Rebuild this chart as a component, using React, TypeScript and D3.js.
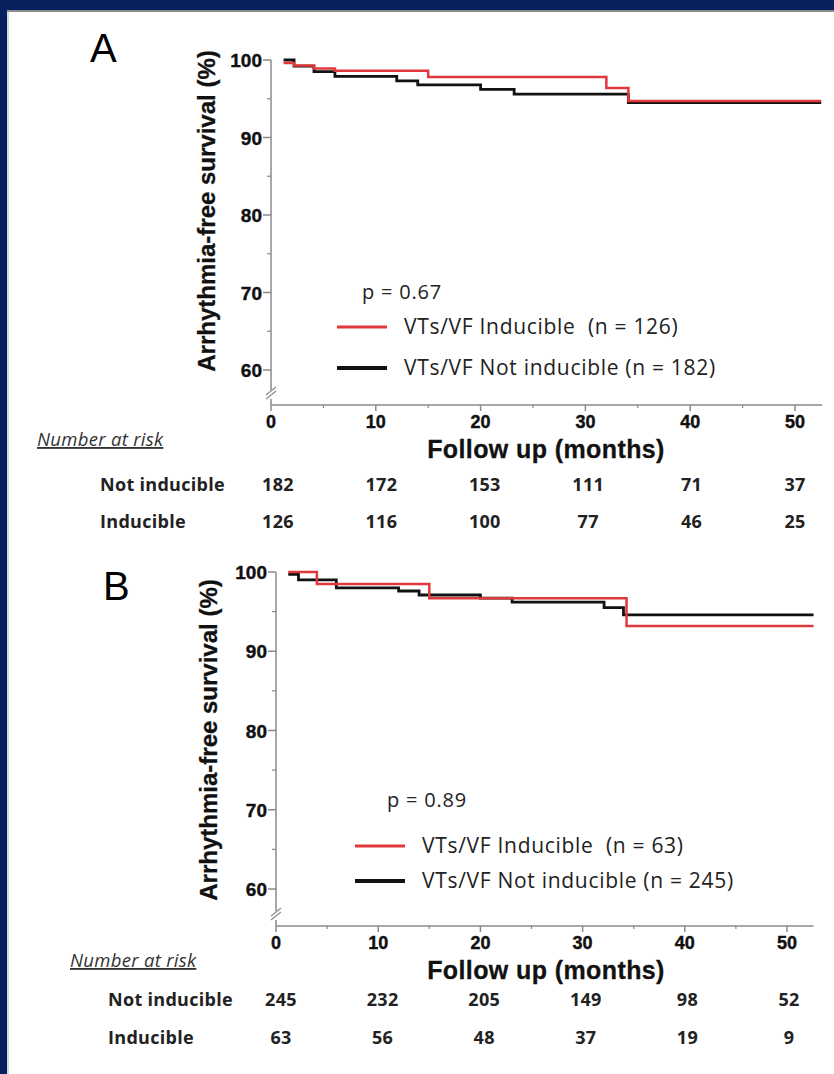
import React from 'react';
import * as d3 from 'd3';

// x ticks (months) and y ticks (%)
const xTicks = [0, 10, 20, 30, 40, 50];
const xMinor = [5, 15, 25, 35, 45];
const yTicks = [60, 70, 80, 90, 100];
const yMinor = [65, 75, 85, 95];

// Panel A: step points [month, survival %]
const inducibleA: [number, number][] = [
  [1.2, 99.6], [2.2, 99.3], [4.1, 98.9], [6.1, 98.6], [15.0, 97.8],
  [32.0, 96.4], [34.1, 94.7], [52.5, 94.7],
];
const notInducibleA: [number, number][] = [
  [1.2, 100], [2.2, 99.2], [4.1, 98.5], [6.1, 97.9], [12.0, 97.3],
  [14.0, 96.8], [20.0, 96.2], [23.2, 95.6], [34.1, 94.5], [52.5, 94.5],
];
const riskNotA = [182, 172, 153, 111, 71, 37];
const riskIndA = [126, 116, 100, 77, 46, 25];

// Panel B
const inducibleB: [number, number][] = [
  [1.2, 100], [4.0, 98.5], [15.0, 96.7], [34.3, 93.2], [52.6, 93.2],
];
const notInducibleB: [number, number][] = [
  [1.2, 99.7], [2.2, 99.0], [5.9, 98.0], [12.0, 97.6], [14.0, 97.1],
  [20.0, 96.7], [23.1, 96.2], [32.1, 95.5], [34.0, 94.6], [52.6, 94.6],
];
const riskNotB = [245, 232, 205, 149, 98, 52];
const riskIndB = [63, 56, 48, 37, 19, 9];

const RED = '#e0383d';
const BLACK = '#111';
const AXIS = '#8a8a8a';
const SANS = '"Liberation Sans", Arial, sans-serif';
const SOFT = '"Open Sans", sans-serif';

interface Geo {
  x0: number; x50: number; y60: number; y100: number;
  xAxisY: number; yAxisBottom: number; xEnd: number;
  labelX: number; labelY: number;
  titleX: number; titleY: number;
  riskLabelX: number; riskX0: number; riskX50: number;
  numberAtRisk: [number, number];
  row1Y: number; row2Y: number;
  pX: number; pY: number; legX: number; legY1: number; legY2: number;
}

interface PanelProps {
  geo: Geo; letter: string; red: [number, number][]; black: [number, number][];
  p: string; nInd: number; nNot: number; riskNot: number[]; riskInd: number[];
}

const heavy = { fontFamily: SANS, fontWeight: 'bold' as const, fill: '#111', stroke: '#111', strokeWidth: 0.4 };
const table = { fontFamily: SOFT, fontWeight: 'bold' as const, fontSize: 18, fill: '#222', letterSpacing: 0.3 };

function Panel({ geo, letter, red, black, p, nInd, nNot, riskNot, riskInd }: PanelProps) {
  const x = d3.scaleLinear().domain([0, 50]).range([geo.x0, geo.x50]);
  const y = d3.scaleLinear().domain([60, 100]).range([geo.y60, geo.y100]);
  const col = d3.scaleLinear().domain([0, 50]).range([geo.riskX0, geo.riskX50]);
  const line = d3.line<[number, number]>()
    .x(d => x(d[0]))
    .y(d => y(d[1]))
    .curve(d3.curveStepAfter);

  return (
    <g>
      <text x={geo.labelX} y={geo.labelY} fontFamily={SANS} fontSize={40}>{letter}</text>

      {/* y axis */}
      <line x1={geo.x0} x2={geo.x0} y1={geo.y100} y2={geo.yAxisBottom} stroke={AXIS} strokeWidth={1.5} />
      {yTicks.map(t => (
        <g key={t}>
          <line x1={geo.x0 - 8} x2={geo.x0} y1={y(t)} y2={y(t)} stroke={AXIS} strokeWidth={1.5} />
          <text x={geo.x0 - 9} y={y(t) + 7} textAnchor="end" fontSize={19} {...heavy}>{t}</text>
        </g>
      ))}
      {yMinor.map(t => (
        <line key={t} x1={geo.x0 - 4} x2={geo.x0} y1={y(t)} y2={y(t)} stroke={AXIS} strokeWidth={1.2} />
      ))}
      {/* axis break */}
      <line x1={geo.x0 - 5} y1={geo.yAxisBottom + 5} x2={geo.x0 + 5} y2={geo.yAxisBottom - 3} stroke={AXIS} strokeWidth={1.2} />
      <line x1={geo.x0 - 5} y1={geo.yAxisBottom + 9} x2={geo.x0 + 5} y2={geo.yAxisBottom + 1} stroke={AXIS} strokeWidth={1.2} />
      <text transform={`translate(${geo.titleX},${geo.titleY}) rotate(-90)`} textAnchor="middle"
        fontSize={24} {...heavy} strokeWidth={0.3}>Arrhythmia-free survival (%)</text>

      {/* x axis */}
      <line x1={geo.x0} x2={x(geo.xEnd)} y1={geo.xAxisY} y2={geo.xAxisY} stroke={AXIS} strokeWidth={1.5} />
      <line x1={geo.x0} x2={geo.x0} y1={geo.xAxisY - 6} y2={geo.xAxisY} stroke={AXIS} strokeWidth={1.5} />
      {xTicks.map(t => (
        <g key={t}>
          <line x1={x(t)} x2={x(t)} y1={geo.xAxisY} y2={geo.xAxisY + 6} stroke={AXIS} strokeWidth={1.5} />
          <text x={x(t)} y={geo.xAxisY + 23} textAnchor="middle" fontSize={18} {...heavy}>{t}</text>
        </g>
      ))}
      {xMinor.map(t => (
        <line key={t} x1={x(t)} x2={x(t)} y1={geo.xAxisY} y2={geo.xAxisY + 3} stroke={AXIS} strokeWidth={1.2} />
      ))}
      <text x={546} y={geo.xAxisY + 53} textAnchor="middle" fontSize={25} letterSpacing={0.4} {...heavy}
        strokeWidth={0.3}>Follow up (months)</text>

      {/* curves */}
      <path d={line(black) ?? ''} fill="none" stroke={BLACK} strokeWidth={2.8} />
      <path d={line(red) ?? ''} fill="none" stroke={RED} strokeWidth={2.5} />

      {/* p value and legend */}
      <text x={geo.pX} y={geo.pY + 1} fontFamily={SOFT} fontSize={20} letterSpacing={0.8} fill="#222">{p}</text>
      <line x1={geo.legX} x2={geo.legX + 50} y1={geo.legY1} y2={geo.legY1} stroke={RED} strokeWidth={3} />
      <text x={geo.legX + 67} y={geo.legY1 + 7} fontFamily={SOFT} fontSize={21} letterSpacing={0.7} fill="#222"
        xmlSpace="preserve">{`VTs/VF Inducible  (n = ${nInd})`}</text>
      <line x1={geo.legX} x2={geo.legX + 50} y1={geo.legY2} y2={geo.legY2} stroke={BLACK} strokeWidth={4} />
      <text x={geo.legX + 67} y={geo.legY2 + 7} fontFamily={SOFT} fontSize={21} letterSpacing={0.7} fill="#222">
        {`VTs/VF Not inducible (n = ${nNot})`}</text>

      {/* number at risk */}
      <text x={geo.numberAtRisk[0]} y={geo.numberAtRisk[1]} fontFamily={SOFT} fontStyle="italic"
        fontSize={18.5} letterSpacing={0.3} fill="#333" textDecoration="underline">Number at risk</text>
      <text x={geo.riskLabelX} y={geo.row1Y} {...table}>Not inducible</text>
      <text x={geo.riskLabelX} y={geo.row2Y} {...table}>Inducible</text>
      {xTicks.map((t, i) => (
        <g key={t}>
          <text x={col(t)} y={geo.row1Y} textAnchor="middle" {...table}>{riskNot[i]}</text>
          <text x={col(t)} y={geo.row2Y} textAnchor="middle" {...table}>{riskInd[i]}</text>
        </g>
      ))}
    </g>
  );
}

const geoA: Geo = {
  x0: 271, x50: 795, y60: 370, y100: 60, xAxisY: 405, yAxisBottom: 390, xEnd: 52.6,
  labelX: 90, labelY: 62, titleX: 215, titleY: 211,
  riskLabelX: 100, riskX0: 278, riskX50: 795, numberAtRisk: [37, 446],
  row1Y: 491, row2Y: 528,
  pX: 362, pY: 298, legX: 337, legY1: 327, legY2: 368,
};

const geoB: Geo = {
  x0: 276, x50: 787, y60: 889, y100: 572, xAxisY: 926, yAxisBottom: 911, xEnd: 52.6,
  labelX: 103, labelY: 600, titleX: 217, titleY: 740,
  riskLabelX: 108, riskX0: 281, riskX50: 789, numberAtRisk: [70, 967],
  row1Y: 1006, row2Y: 1044,
  pX: 387, pY: 806, legX: 355, legY1: 846, legY2: 881,
};

export default function App() {
  const W = 834;
  const H = 1074;
  return (
    <svg width={W} height={H} style={{ position: 'absolute', left: 0, top: 0 }}>
      <rect x={0} y={0} width={W} height={H} fill="#fff" />
      <rect x={0} y={0} width={W} height={10} fill="#07215f" />
      <rect x={0} y={0} width={7} height={H} fill="#07215f" />
      <line x1={7} x2={W} y1={11} y2={11} stroke="#8c8c8c" strokeWidth={2} />
      <line x1={8} x2={8} y1={10} y2={H} stroke="#b0b0b0" strokeWidth={1} />
      <Panel geo={geoA} letter="A" red={inducibleA} black={notInducibleA} p="p = 0.67"
        nInd={126} nNot={182} riskNot={riskNotA} riskInd={riskIndA} />
      <Panel geo={geoB} letter="B" red={inducibleB} black={notInducibleB} p="p = 0.89"
        nInd={63} nNot={245} riskNot={riskNotB} riskInd={riskIndB} />
    </svg>
  );
}
